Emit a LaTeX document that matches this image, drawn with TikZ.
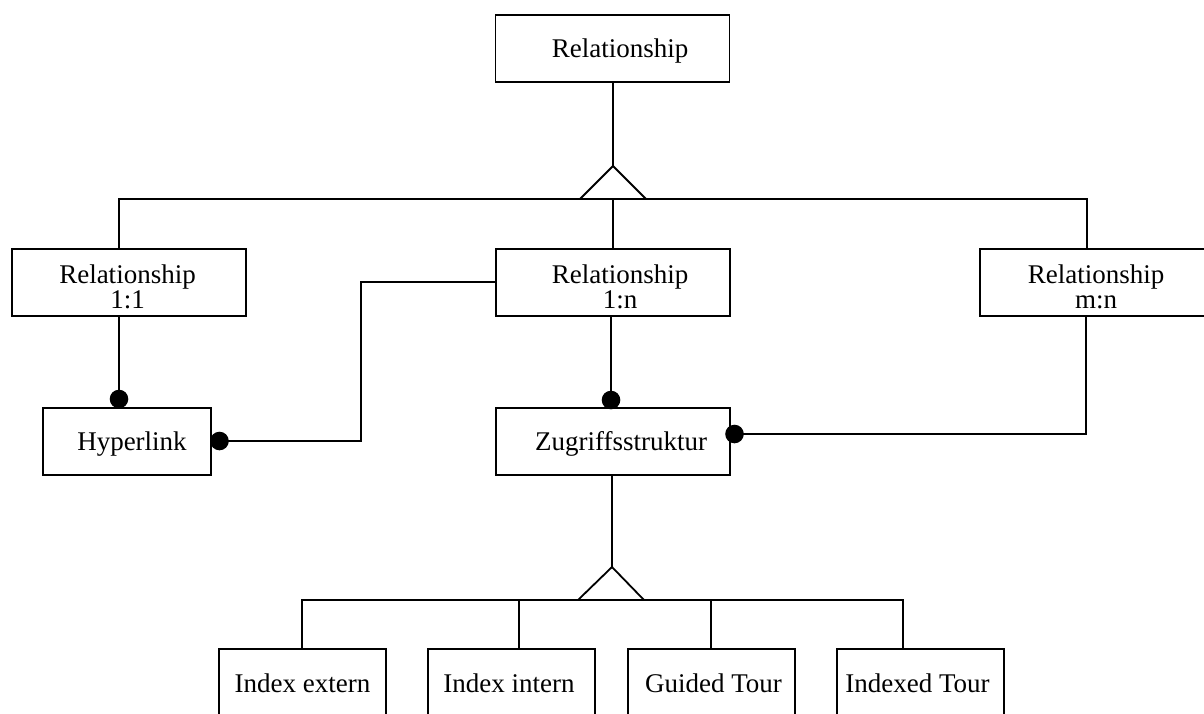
\documentclass[tikz,border=0pt]{standalone}
\usepackage{fontspec}
\setmainfont{Liberation Serif}
\begin{document}
\begin{tikzpicture}[x=1pt,y=-1pt,
  box/.style={draw,line width=1.8pt,rectangle,minimum width=234pt,minimum height=67pt,inner sep=0pt},
  smallbox/.style={box,minimum width=167pt},
  lbl/.style={font=\fontsize{27}{25}\selectfont,inner sep=0pt,align=center},
  conn/.style={line width=1.8pt},
  dot/.style={fill=black}]
\clip (0,0) rectangle (1204,713);

% entity boxes
\node[box] (top) at (612.5,48.5) {};
\node[box] (r11) at (129,282.5) {};
\node[box] (r1n) at (613,282.5) {};
\node[box] (rmn) at (1097,282.5) {};
\node[box,minimum width=168pt] (hyp) at (127,441.5) {};
\node[box] (zug) at (613,441.5) {};
\node[smallbox] (ie) at (302.5,682.5) {};
\node[smallbox] (ii) at (511.5,682.5) {};
\node[smallbox] (gt) at (711.5,682.5) {};
\node[smallbox] (it) at (920.5,682.5) {};

% labels
\node[lbl,anchor=base] (topt) at (620,57) {Relationship};
\node[lbl] (r11t) at (127.5,286.7) {Relationship\\1:1};
\node[lbl] (r1nt) at (620,286.7) {Relationship\\1:n};
\node[lbl] (rmnt) at (1096,286.7) {Relationship\\m:n};
\node[lbl,anchor=base] (hypt) at (132,450) {Hyperlink};
\node[lbl,anchor=base] (zugt) at (621,450) {Zugriffsstruktur};
\node[lbl,anchor=base] (iet) at (302.5,692) {Index extern};
\node[lbl,anchor=base] (iit) at (509,692) {Index intern};
\node[lbl,anchor=base] (gtt) at (713.5,692) {Guided Tour};
\node[lbl,anchor=base] (itt) at (917.5,692) {Indexed Tour};

% upper generalisation
\coordinate (g1) at (613,166);
\coordinate (t1l) at (580,199);
\coordinate (t1r) at (646,199);
\coordinate (b1L) at (119,199);
\coordinate (b1R) at (1087,199);
\draw[conn] (g1 |- top.south) -- (g1);
\draw[conn] (t1l) -- (g1) -- (t1r);
\draw[conn] (b1L |- r11.north) -- (b1L) -- (b1R) -- (b1R |- rmn.north);
\draw[conn] (g1 |- b1L) -- (g1 |- r1n.north);

% associations
\coordinate (d1) at (119,399);
\coordinate (d2) at (219.5,441);
\coordinate (k1) at (361,282);
\coordinate (d3) at (611,400);
\coordinate (d4) at (734.5,434);
\coordinate (k2) at (1086,434);
\draw[conn] (d1 |- r11.south) -- (d1);
\draw[conn] (d2) -| (k1) -- (k1 -| r1n.west);
\draw[conn] (d3 |- r1n.south) -- (d3);
\draw[conn] (d4) -- (k2) -- (k2 |- rmn.south);
\foreach \d in {d1,d2,d3,d4} \fill[dot] (\d) circle (9.3);

% lower generalisation
\coordinate (g2) at (612,567);
\coordinate (t2l) at (578,600);
\coordinate (t2r) at (644,600);
\coordinate (b2L) at (302,600);
\coordinate (b2a) at (519,600);
\coordinate (b2b) at (711,600);
\coordinate (b2R) at (903,600);
\draw[conn] (g2 |- zug.south) -- (g2);
\draw[conn] (t2l) -- (g2) -- (t2r);
\draw[conn] (b2L |- ie.north) -- (b2L) -- (b2R) -- (b2R |- it.north);
\draw[conn] (b2a) -- (b2a |- ii.north);
\draw[conn] (b2b) -- (b2b |- gt.north);
\end{tikzpicture}
\end{document}
